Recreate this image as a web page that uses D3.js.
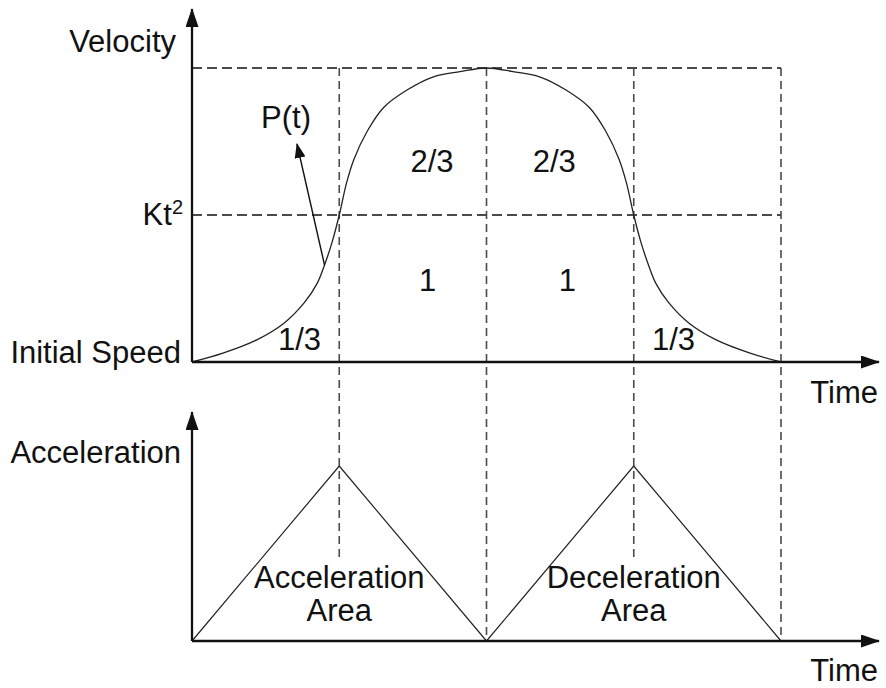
<!DOCTYPE html>
<html>
<head>
<meta charset="utf-8">
<script src="https://cdn.jsdelivr.net/npm/d3@7"></script>
<style>
  html, body { margin: 0; padding: 0; background: #fff; }
  text { font-family: "Liberation Sans", Arial, sans-serif; fill: #111; }
</style>
</head>
<body>
<div id="chart"></div>
<script>
// velocity profile (time in phase units, velocity in Kt^2 units)
const velTime = [0, 0.21, 0.44, 0.62, 0.76, 0.85, 0.9, 0.95, 1, 1.05, 1.1, 1.19, 1.3, 1.46, 1.64, 1.82, 2,
                 2.18, 2.36, 2.54, 2.7, 2.81, 2.9, 2.95, 3, 3.05, 3.1, 3.15, 3.24, 3.38, 3.56, 3.79, 4];
const velValue = [0, 0.06, 0.15, 0.26, 0.40, 0.535, 0.66, 0.81, 1, 1.22, 1.38, 1.57, 1.73, 1.85, 1.94, 1.975, 2,
                  1.975, 1.94, 1.85, 1.73, 1.57, 1.38, 1.22, 1, 0.81, 0.66, 0.535, 0.40, 0.26, 0.15, 0.06, 0];

// acceleration profile: two triangles
const accTime = [0, 1, 2, 3, 4];
const accValue = [0, 1, 0, 1, 0];

// reference grid
const gridTimes = [1, 2, 3, 4];
const gridStopAcc = [0.47, 0, 0.47, 0];   // where each vertical dash line stops in the lower panel
const gridLevels = [1, 2];

// fractions written in the areas under the velocity curve
const areaLabels = ["1/3", "2/3", "1", "2/3", "1", "1/3"];
const areaLabelT = [0.73, 1.63, 1.60, 2.46, 2.55, 3.27];
const areaLabelV = [0.08, 1.29, 0.48, 1.29, 0.48, 0.08];

const phaseLabels = [["Acceleration", "Area"], ["Deceleration", "Area"]];
const phaseLabelT = [1, 3];

const width = 886, height = 688;
const fontSize = 31;

const svg = d3.select("#chart").append("svg")
  .attr("width", width)
  .attr("height", height);

const x = d3.scaleLinear().domain([0, 4]).range([192, 781]);
const yV = d3.scaleLinear().domain([0, 2]).range([362, 68]);
const yA = d3.scaleLinear().domain([0, 1]).range([641, 466]);

const xAxisEnd = x.invert(879);
const yVTop = yV.invert(9);
const yATop = yA.invert(412);

// arrow heads
const defs = svg.append("defs");
defs.append("marker")
  .attr("id", "axisArrow")
  .attr("viewBox", "0 0 19 13")
  .attr("refX", 18).attr("refY", 6.5)
  .attr("markerWidth", 19).attr("markerHeight", 13)
  .attr("markerUnits", "userSpaceOnUse")
  .attr("orient", "auto")
  .append("path").attr("d", "M0,0L19,6.5L0,13Z").attr("fill", "#111");
defs.append("marker")
  .attr("id", "thinArrow")
  .attr("viewBox", "0 0 15 11")
  .attr("refX", 14).attr("refY", 5.5)
  .attr("markerWidth", 15).attr("markerHeight", 11)
  .attr("markerUnits", "userSpaceOnUse")
  .attr("orient", "auto")
  .append("path").attr("d", "M0,0L15,5.5L0,11Z").attr("fill", "#111");

// dashed grid
const dash = svg.append("g")
  .attr("stroke", "#4a4a4a")
  .attr("stroke-width", 2)
  .attr("stroke-dasharray", "10,5")
  .attr("fill", "none");

dash.selectAll("line.h")
  .data(gridLevels)
  .join("line").attr("class", "h")
  .attr("x1", x(0)).attr("x2", x(4))
  .attr("y1", d => yV(d)).attr("y2", d => yV(d));

dash.selectAll("line.v")
  .data(gridTimes)
  .join("line").attr("class", "v")
  .attr("stroke-width", 1.6)
  .attr("stroke-dasharray", "8,5")
  .attr("x1", d => x(d)).attr("x2", d => x(d))
  .attr("y1", yV(2))
  .attr("y2", (d, i) => yA(gridStopAcc[i]));

// velocity curve
const velData = velTime.map((t, i) => ({ t, v: velValue[i] }));
svg.append("path")
  .datum(velData)
  .attr("fill", "none")
  .attr("stroke", "#222")
  .attr("stroke-width", 1.3)
  .attr("d", d3.line().x(d => x(d.t)).y(d => yV(d.v)).curve(d3.curveCatmullRom.alpha(0.5)));

// acceleration triangles
const accData = accTime.map((t, i) => ({ t, a: accValue[i] }));
svg.append("path")
  .datum(accData)
  .attr("fill", "none")
  .attr("stroke", "#222")
  .attr("stroke-width", 1.2)
  .attr("d", d3.line().x(d => x(d.t)).y(d => yA(d.a)));

// axes
const axes = svg.append("g").attr("stroke", "#111").attr("stroke-width", 2.3);
axes.append("line")
  .attr("x1", x(0)).attr("y1", yV(0)).attr("x2", x(0)).attr("y2", yV(yVTop))
  .attr("marker-end", "url(#axisArrow)");
axes.append("line")
  .attr("x1", x(0)).attr("y1", yV(0)).attr("x2", x(xAxisEnd)).attr("y2", yV(0))
  .attr("marker-end", "url(#axisArrow)");
axes.append("line")
  .attr("x1", x(0)).attr("y1", yA(0)).attr("x2", x(0)).attr("y2", yA(yATop))
  .attr("marker-end", "url(#axisArrow)");
axes.append("line")
  .attr("x1", x(0)).attr("y1", yA(0)).attr("x2", x(xAxisEnd)).attr("y2", yA(0))
  .attr("marker-end", "url(#axisArrow)");

// P(t) pointer, from the curve up to its label
svg.append("line")
  .attr("x1", x(0.9)).attr("y1", yV(0.66))
  .attr("x2", 297).attr("y2", 144)
  .attr("stroke", "#111").attr("stroke-width", 1.4)
  .attr("marker-end", "url(#thinArrow)");
svg.append("text")
  .attr("x", 286).attr("y", 128)
  .attr("text-anchor", "middle")
  .attr("font-size", fontSize)
  .text("P(t)");

// axis labels
const yLab = svg.append("g").attr("text-anchor", "end").attr("font-size", fontSize);
yLab.append("text").attr("x", 176).attr("y", 52).text("Velocity");
const kt = yLab.append("text").attr("x", 183).attr("y", 225);
kt.append("tspan").text("Kt");
kt.append("tspan").attr("font-size", 20).attr("dy", -11).text("2");
yLab.append("text").attr("x", 181).attr("y", 363).text("Initial Speed");
yLab.append("text").attr("x", 181).attr("y", 463).text("Acceleration");

svg.append("text").attr("x", 878).attr("y", 403)
  .attr("text-anchor", "end").attr("font-size", fontSize).text("Time");
svg.append("text").attr("x", 878).attr("y", 681)
  .attr("text-anchor", "end").attr("font-size", fontSize).text("Time");

// area fractions
svg.append("g").attr("text-anchor", "middle").attr("font-size", fontSize)
  .selectAll("text")
  .data(areaLabels)
  .join("text")
  .attr("x", (d, i) => x(areaLabelT[i]))
  .attr("y", (d, i) => yV(areaLabelV[i]))
  .text(d => d);

// phase captions, one text per line
const captions = svg.append("g").attr("text-anchor", "middle").attr("font-size", fontSize);
phaseLabels.forEach((lines, i) => {
  captions.selectAll(null)
    .data(lines)
    .join("text")
    .attr("x", x(phaseLabelT[i]))
    .attr("y", (d, j) => 588 + j * 33)
    .text(d => d);
});
</script>
</body>
</html>
